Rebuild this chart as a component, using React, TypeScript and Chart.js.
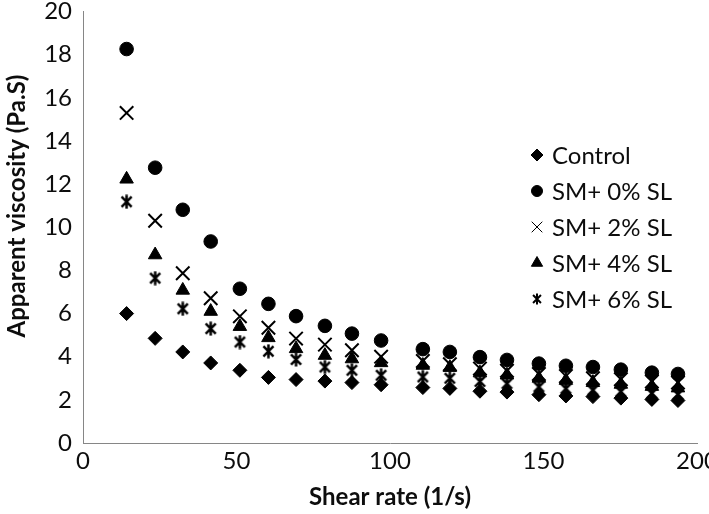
import React, { useEffect, useRef } from 'react';
import { Chart, registerables } from 'chart.js';
import { drawPoint } from 'chart.js/helpers';

Chart.register(...registerables);

// ---- data ----
const shearRate = [14.2, 23.5, 32.5, 41.6, 51.1, 60.4, 69.4, 78.8, 87.6, 97.1, 110.7, 119.5, 129.3, 138.1, 148.5, 157.3, 166.1, 175.2, 185.3, 193.8];
const control = [6.0, 4.85, 4.22, 3.71, 3.37, 3.04, 2.94, 2.87, 2.8, 2.7, 2.57, 2.53, 2.4, 2.36, 2.24, 2.18, 2.15, 2.08, 2.02, 1.97];
const sm0 = [18.26, 12.76, 10.81, 9.34, 7.15, 6.45, 5.88, 5.43, 5.07, 4.75, 4.35, 4.22, 3.98, 3.85, 3.68, 3.58, 3.52, 3.4, 3.26, 3.2];
const sm2 = [15.3, 10.3, 7.87, 6.71, 5.87, 5.34, 4.84, 4.56, 4.3, 4.0, 3.8, 3.65, 3.45, 3.35, 3.2, 3.1, 3.0, 2.95, 2.85, 2.8];
const sm4 = [12.23, 8.72, 7.08, 6.1, 5.4, 4.88, 4.37, 4.06, 3.9, 3.72, 3.6, 3.5, 3.25, 3.15, 3.0, 2.9, 2.8, 2.72, 2.62, 2.55];
const sm6 = [11.18, 7.64, 6.22, 5.3, 4.68, 4.25, 3.87, 3.52, 3.37, 3.14, 3.06, 3.0, 2.85, 2.75, 2.6, 2.52, 2.45, 2.38, 2.3, 2.25];
const seriesNames = ['Control', 'SM+ 0% SL', 'SM+ 2% SL', 'SM+ 4% SL', 'SM+ 6% SL'];
const xTickValues = [0, 50, 100, 150, 200];
const yTickValues = [0, 2, 4, 6, 8, 10, 12, 14, 16, 18, 20];
const xTitle = 'Shear rate (1/s)';
const yTitle = 'Apparent viscosity (Pa.S)';

const FONT = 'Lato, "Open Sans", sans-serif';
const TEXT = '#0d0d0d';

function makeAsterisk(size: number, lw: number) {
  const c = document.createElement('canvas');
  c.width = size;
  c.height = size;
  const g = c.getContext('2d')!;
  g.strokeStyle = '#000';
  g.lineWidth = lw;
  g.lineCap = 'butt';
  const m = size / 2;
  const r = size / 2 - 0.5;
  const d = r * 0.72;
  g.beginPath();
  g.moveTo(m - d, m - d);
  g.lineTo(m + d, m + d);
  g.moveTo(m + d, m - d);
  g.lineTo(m - d, m + d);
  g.moveTo(m, m - r);
  g.lineTo(m, m + r);
  g.stroke();
  return c;
}

export default function App() {
  const ref = useRef<HTMLCanvasElement | null>(null);

  useEffect(() => {
    if (!ref.current) return;
    const star = makeAsterisk(15, 2.5);
    const starSmall = makeAsterisk(12, 2);

    const toPts = (ys: number[]) => ys.map((y, i) => ({ x: shearRate[i], y }));
    const styles: any[] = [
      { pointStyle: 'rectRot', pointRadius: 7, fill: true },
      { pointStyle: 'circle', pointRadius: 6.8, fill: true },
      { pointStyle: 'crossRot', pointRadius: 9.5, fill: false },
      { pointStyle: 'triangle', pointRadius: 7.8, fill: true },
      { pointStyle: star, pointRadius: 7, fill: false },
    ];
    const legendStyles: any[] = [
      { pointStyle: 'rectRot', radius: 6, borderWidth: 1 },
      { pointStyle: 'circle', radius: 5.5, borderWidth: 1 },
      { pointStyle: 'crossRot', radius: 7.5, borderWidth: 1.6 },
      { pointStyle: 'triangle', radius: 6.5, borderWidth: 1 },
      { pointStyle: starSmall, radius: 6, borderWidth: 1 },
    ];
    const allSeries = [control, sm0, sm2, sm4, sm6];

    const datasets = allSeries.map((ys, i) => ({
      label: seriesNames[i],
      data: toPts(ys),
      showLine: false,
      pointStyle: styles[i].pointStyle,
      pointRadius: styles[i].pointRadius,
      pointBackgroundColor: '#000',
      pointBorderColor: '#000',
      pointBorderWidth: styles[i].fill ? 1 : 2,
      pointHoverRadius: styles[i].pointRadius,
    }));

    const overlay = {
      id: 'overlay',
      afterDraw(chart: any) {
        const ctx = chart.ctx as CanvasRenderingContext2D;
        ctx.save();
        // legend
        const lx = 537;
        const tx = 552;
        const ly0 = 155;
        const step = 36;
        ctx.font = `24px ${FONT}`;
        ctx.textBaseline = 'middle';
        ctx.textAlign = 'left';
        seriesNames.forEach((name, i) => {
          const y = ly0 + i * step;
          ctx.fillStyle = '#000';
          ctx.strokeStyle = '#000';
          drawPoint(ctx, { ...legendStyles[i], rotation: 0 }, lx, y);
          ctx.fillStyle = TEXT;
          ctx.fillText(name, tx, y + 1);
        });
        // axis titles
        ctx.font = `bold 24px ${FONT}`;
        ctx.fillStyle = TEXT;
        ctx.textAlign = 'center';
        ctx.textBaseline = 'middle';
        ctx.fillText(xTitle, 390, 497);
        ctx.translate(17, 206);
        ctx.rotate(-Math.PI / 2);
        ctx.fillText(yTitle, 0, 0);
        ctx.restore();
      },
    };

    const chart = new Chart(ref.current, {
      type: 'scatter',
      data: { datasets },
      plugins: [overlay],
      options: {
        animation: false,
        responsive: true,
        maintainAspectRatio: false,
        layout: { padding: { left: 0, right: 12, top: 10, bottom: 0 } },
        plugins: { legend: { display: false }, tooltip: { enabled: false } },
        scales: {
          x: {
            type: 'linear',
            min: 0,
            max: 200,
            afterBuildTicks: (s: any) => {
              s.ticks = xTickValues.map((v) => ({ value: v }));
            },
            afterFit: (s: any) => {
              s.height = 71;
              s.paddingLeft = 0;
              s.paddingRight = 0;
            },
            grid: { display: false, drawTicks: false },
            border: { display: true, color: '#868686', width: 1 },
            ticks: { color: TEXT, font: { family: FONT, size: 24 }, padding: 4, maxRotation: 0, autoSkip: false },
          },
          y: {
            type: 'linear',
            min: 0,
            max: 20,
            afterBuildTicks: (s: any) => {
              s.ticks = yTickValues.map((v) => ({ value: v }));
            },
            afterFit: (s: any) => {
              s.width = 83;
              s.paddingTop = 0;
              s.paddingBottom = 0;
            },
            grid: { display: false, drawTicks: false },
            border: { display: true, color: '#868686', width: 1 },
            ticks: { color: TEXT, font: { family: FONT, size: 24 }, padding: 11, autoSkip: false },
          },
        },
      },
    });
    return () => chart.destroy();
  }, []);

  return (
    <div style={{ position: 'absolute', left: 0, top: 0, width: 709, height: 514, background: '#fff' }}>
      <canvas ref={ref} />
    </div>
  );
}
